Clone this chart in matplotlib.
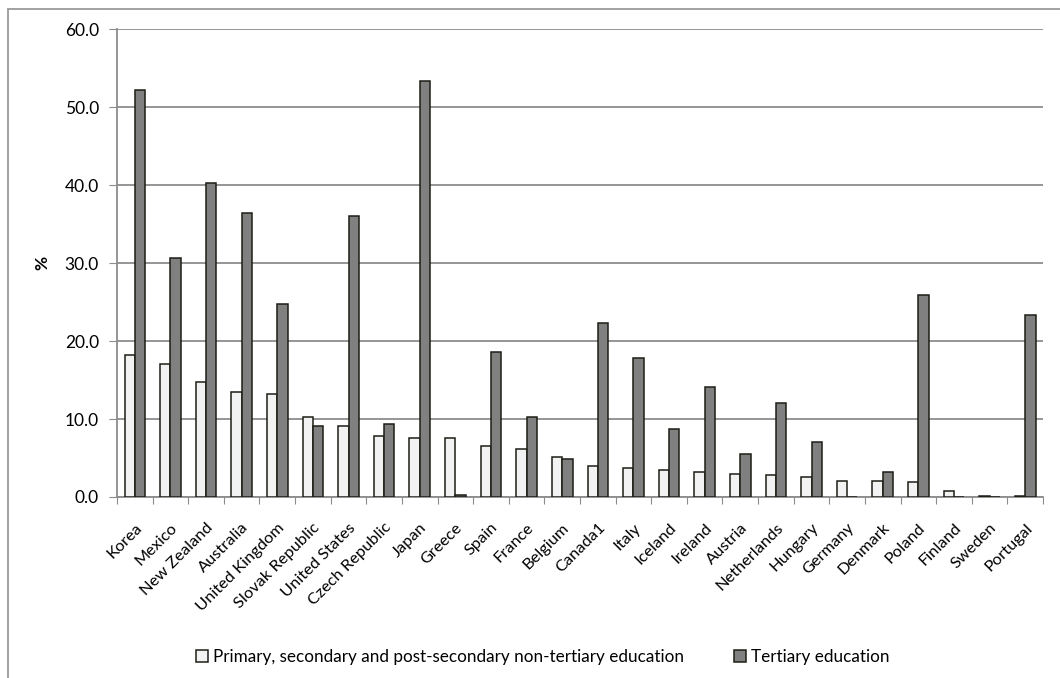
import numpy as np
import matplotlib.pyplot as plt
from matplotlib.patches import Rectangle

plt.rcParams['font.family'] = ['Lato', 'DejaVu Sans']

countries = ['Korea', 'Mexico', 'New Zealand', 'Australia', 'United Kingdom',
             'Slovak Republic', 'United States', 'Czech Republic', 'Japan', 'Greece',
             'Spain', 'France', 'Belgium', 'Canada1', 'Italy', 'Iceland', 'Ireland',
             'Austria', 'Netherlands', 'Hungary', 'Germany', 'Denmark', 'Poland',
             'Finland', 'Sweden', 'Portugal']

# below tertiary level
non_tertiary = [18.2, 17.0, 14.8, 13.5, 13.2, 10.2, 9.1, 7.8, 7.6, 7.5,
                6.6, 6.2, 5.1, 4.0, 3.7, 3.5, 3.2, 3.0, 2.8, 2.6,
                2.0, 2.0, 1.9, 0.8, 0.1, 0.1]
tertiary = [52.2, 30.6, 40.3, 36.4, 24.7, 9.1, 36.0, 9.4, 53.4, 0.2,
            18.6, 10.2, 4.9, 22.3, 17.8, 8.7, 14.1, 5.5, 12.0, 7.0,
            0.0, 3.2, 25.9, 0.0, 0.0, 23.4]

labels = ['Primary, secondary and post-secondary non-tertiary education',
          'Tertiary education']

fig = plt.figure(figsize=(10.6, 6.78), dpi=100)
ax = fig.add_axes([0.1104, 0.267, 0.8736, 0.690])

x = np.arange(len(countries))
w = 0.29
edge = '#1e1e16'
b1 = ax.bar(x - w / 2, non_tertiary, w, color='#f2f2f2', edgecolor=edge, linewidth=1.1,
            label=labels[0], zorder=3)
b2 = ax.bar(x + w / 2, tertiary, w, color='#808080', edgecolor=edge, linewidth=1.1,
            label=labels[1], zorder=3)

ax.set_xlim(-0.5, len(countries) - 0.5)
ax.set_ylim(0, 60)
ax.set_yticks(np.arange(0, 61, 10))
ax.set_yticklabels([f'{v:.1f}' for v in np.arange(0, 61, 10)], fontsize=12.5)
ax.yaxis.grid(True, color='#8c8c8c', linewidth=1.3, zorder=0)
ax.tick_params(axis='y', length=6, color='#8c8c8c', pad=7)

# category ticks sit between groups, labels at centres
ax.set_xticks(np.arange(-0.5, len(countries), 1.0))
ax.set_xticklabels([])
ax.set_xticks(x, minor=True)
ax.set_xticklabels(countries, minor=True, rotation=45, ha='right',
                   rotation_mode='anchor', fontsize=11.8)
ax.tick_params(axis='x', which='major', length=5, color='#8c8c8c')
ax.tick_params(axis='x', which='minor', length=0, pad=17)

for s in ['top', 'right']:
    ax.spines[s].set_visible(False)
for s in ['left', 'bottom']:
    ax.spines[s].set_color('#8c8c8c')
    ax.spines[s].set_linewidth(1.3)

ax.set_ylabel('%', fontsize=12.5, fontweight='bold', labelpad=10)

fig.legend(handles=[b1, b2], labels=labels, loc='center', ncol=2,
           bbox_to_anchor=(0.512, 0.031), frameon=False, fontsize=12.3,
           handlelength=0.7, handleheight=0.7, handletextpad=0.3,
           columnspacing=2.9)

# chart frame
fig.patches.append(Rectangle((8 / 1060, -0.05), 1.2, 1 - 9 / 678 + 0.05,
                             transform=fig.transFigure, fill=False,
                             edgecolor='#9a9a9a', linewidth=1.3))

fig.savefig('out.png', dpi=100)
